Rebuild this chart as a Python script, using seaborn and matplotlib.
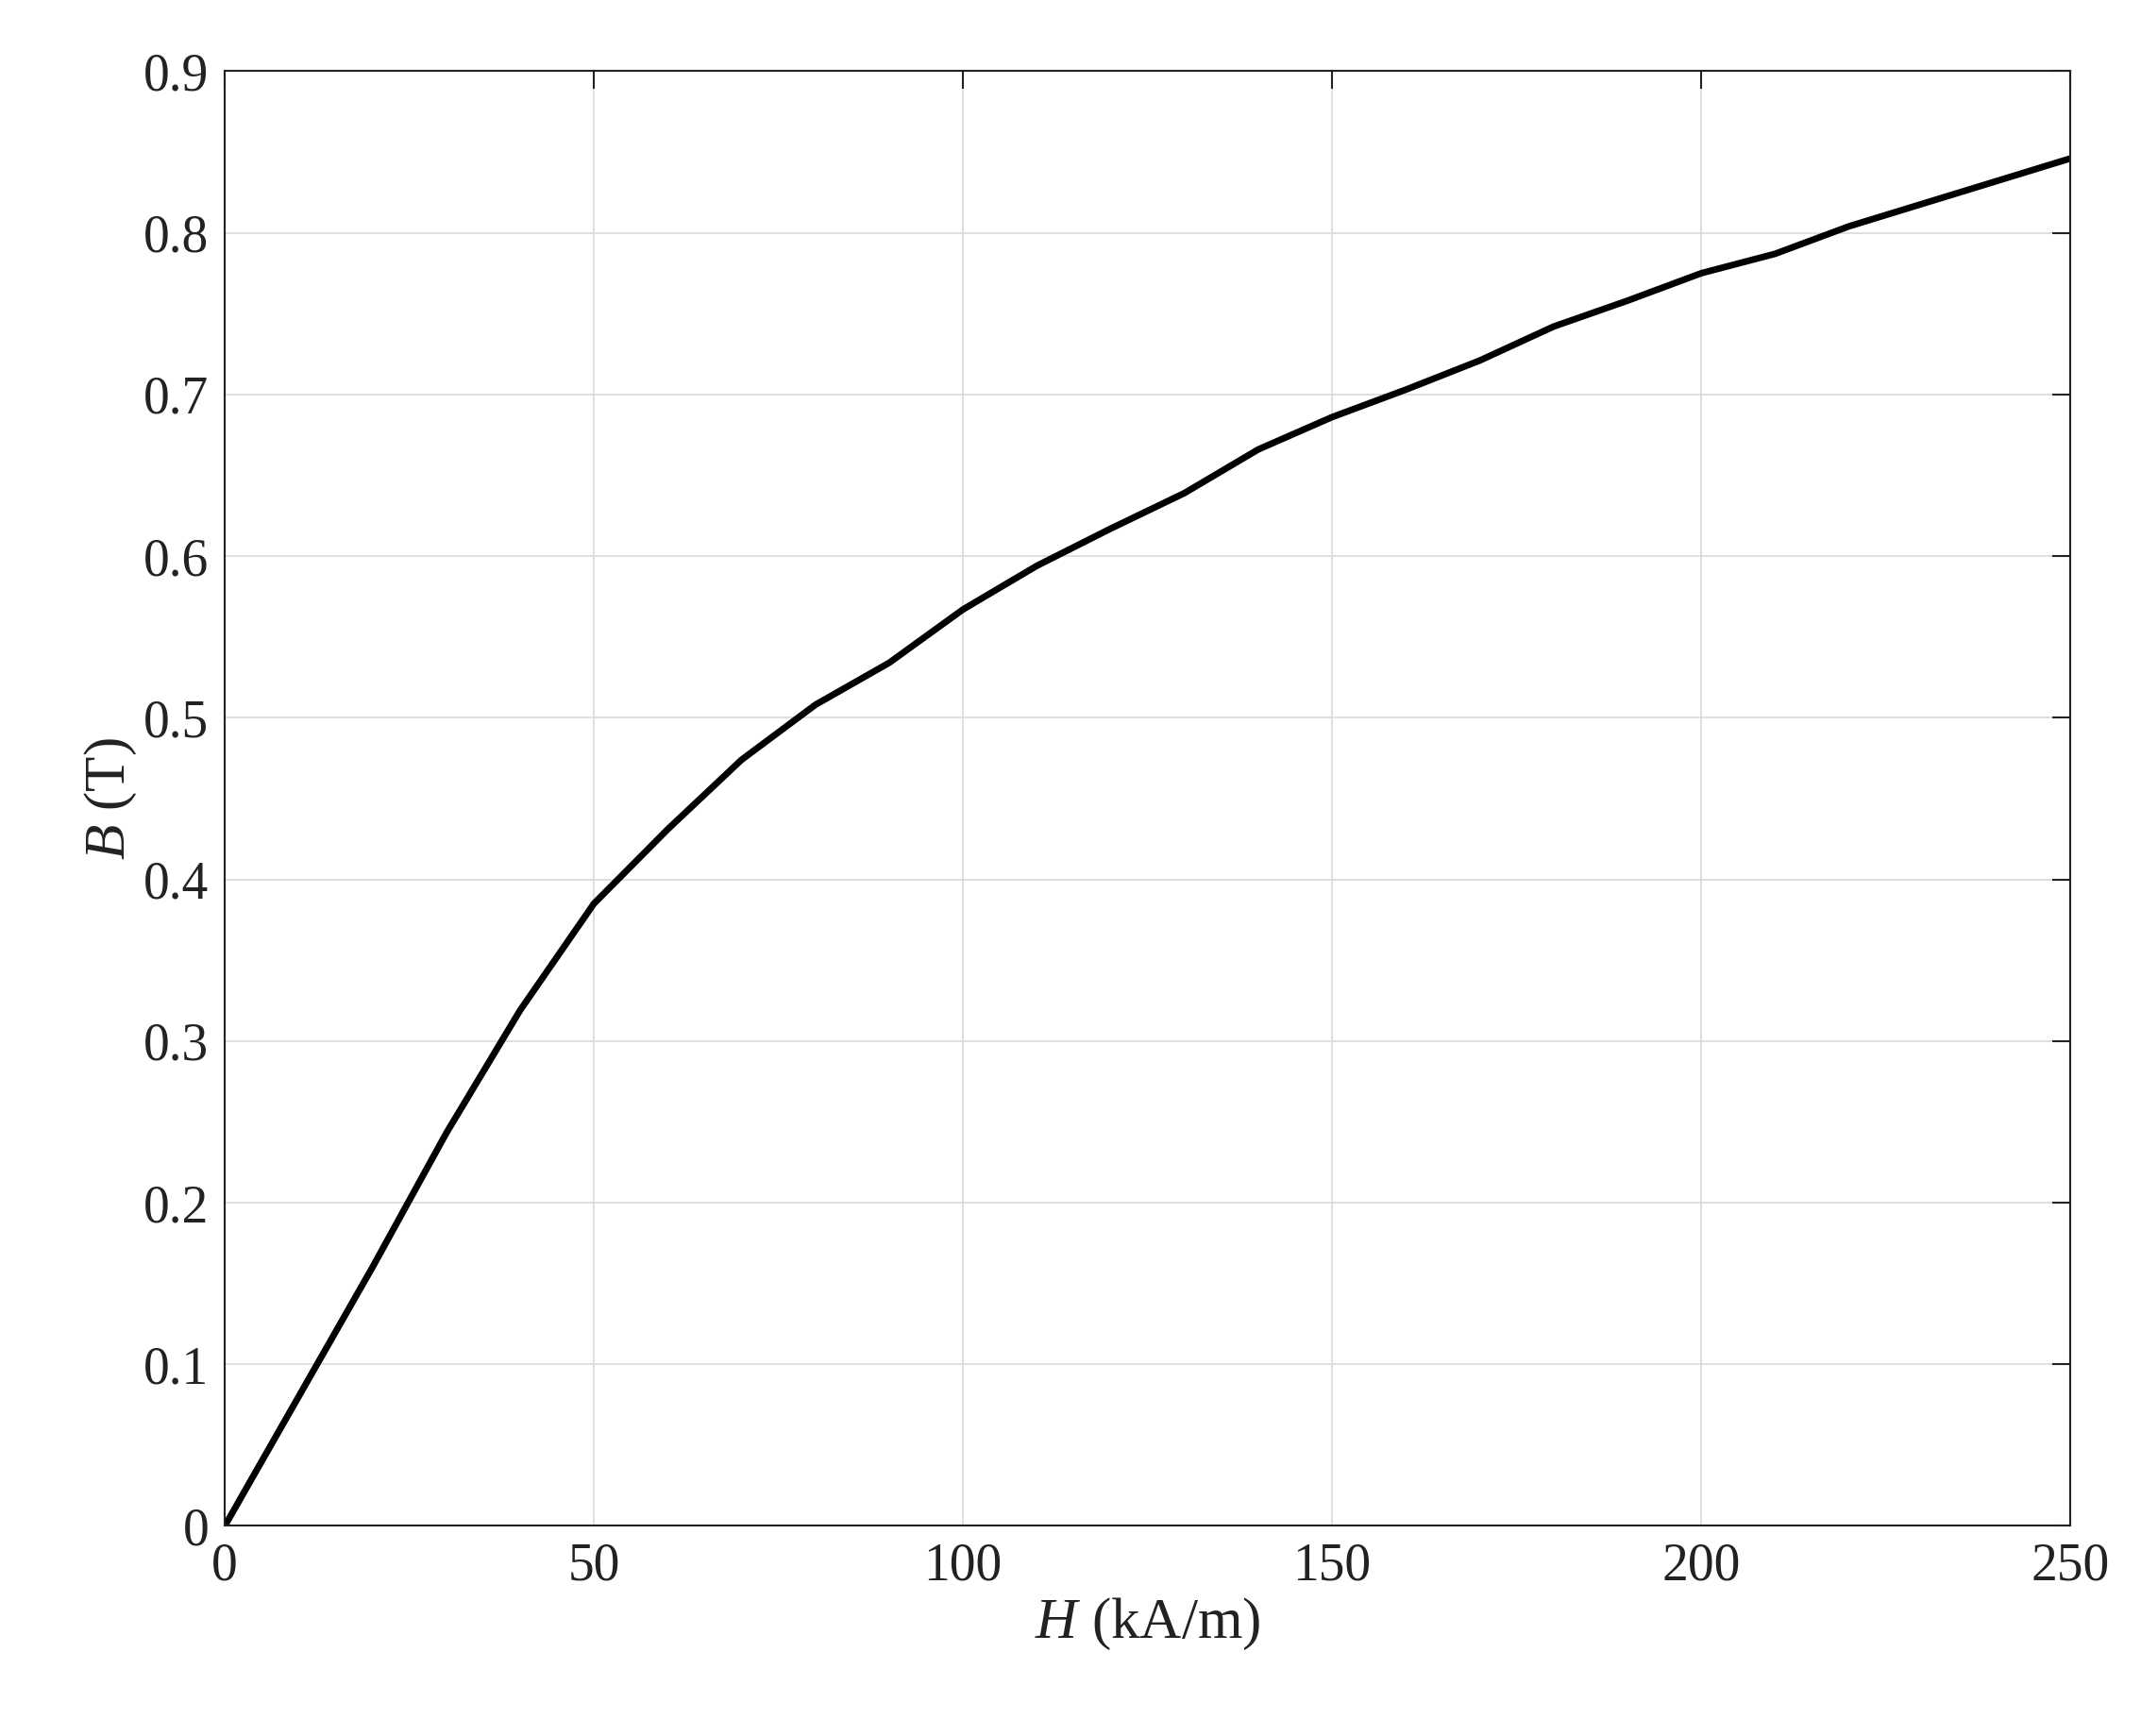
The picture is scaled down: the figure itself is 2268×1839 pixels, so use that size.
import matplotlib
matplotlib.use("Agg")
import matplotlib.pyplot as plt
import seaborn as sns
import pandas as pd

H = [0,10,20,30,40,50,60,70,80,90,100,110,120,130,140,150,160,170,180,190,200,210,220,230,240,250]
B = [0,0.080,0.160,0.243,0.319,0.385,0.431,0.474,0.508,0.534,0.567,0.594,0.617,0.639,0.666,0.686,0.703,0.721,0.742,0.758,0.775,0.787,0.804,0.818,0.832,0.846]
xticks = [0,50,100,150,200,250]
yticks = [0,0.1,0.2,0.3,0.4,0.5,0.6,0.7,0.8,0.9]

sns.set_theme(style="white")
plt.rcParams['font.family'] = ['Liberation Serif', 'DejaVu Serif']
plt.rcParams['mathtext.fontset'] = 'custom'
plt.rcParams['mathtext.it'] = 'Liberation Serif:italic'
plt.rcParams['mathtext.rm'] = 'Liberation Serif'

fig = plt.figure(figsize=(22.68, 18.39), dpi=100)
ax = fig.add_axes([0.105, 0.121, 0.862, 0.838])
df = pd.DataFrame({"H": H, "B": B})
sns.lineplot(data=df, x="H", y="B", ax=ax, color="black", linewidth=5)
ax.set_xlim(0, 250); ax.set_ylim(0, 0.9)
ax.set_xticks(xticks); ax.set_yticks(yticks)
ax.set_xticklabels([str(t) for t in xticks])
ax.set_yticklabels(["0"] + [f"{t:.1f}" for t in yticks[1:]])
ax.grid(True, color="#d9d9d9", linewidth=1.2)
ax.tick_params(direction="in", length=14, width=1.5, top=True, right=True, labelsize=40, colors="#222222", pad=12)
for s in ax.spines.values():
    s.set_color("#222222"); s.set_linewidth(1.5)
ax.set_xlabel(r"$H$ (kA/m)", fontsize=44, color="#222222")
ax.set_ylabel(r"$B$ (T)", fontsize=44, color="#222222")
fig.savefig("out.png", dpi=100)
